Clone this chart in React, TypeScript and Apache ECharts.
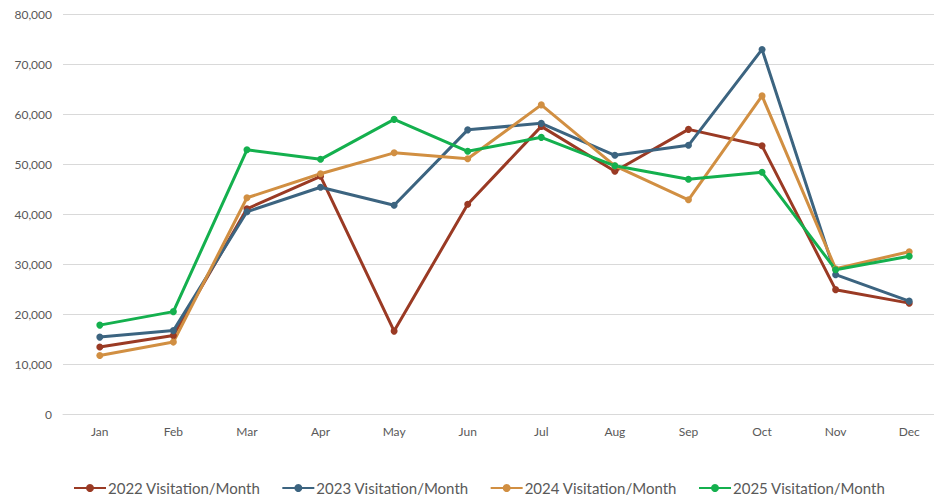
import React, { useEffect, useRef } from "react";
import * as echarts from "echarts";

const months = ["Jan", "Feb", "Mar", "Apr", "May", "Jun", "Jul", "Aug", "Sep", "Oct", "Nov", "Dec"];
const yTicks = [0, 10000, 20000, 30000, 40000, 50000, 60000, 70000, 80000];

const v2022 = [13400, 15700, 41100, 47600, 16600, 42000, 57600, 48600, 57000, 53700, 24900, 22200];
const v2023 = [15400, 16700, 40500, 45400, 41800, 56900, 58200, 51800, 53800, 73000, 27900, 22600];
const v2024 = [11700, 14400, 43300, 48100, 52300, 51100, 61900, 49700, 42900, 63700, 29100, 32500];
const v2025 = [17800, 20500, 52900, 51000, 59000, 52600, 55400, 49700, 47000, 48400, 28900, 31600];

const seriesNames = ["2022 Visitation/Month", "2023 Visitation/Month", "2024 Visitation/Month", "2025 Visitation/Month"];
const seriesColors = ["#9A3A24", "#3C6480", "#D18F42", "#14B04E"];

export default function App() {
  const ref = useRef<HTMLDivElement>(null);
  useEffect(() => {
    document.body.style.margin = "0";
    if (!ref.current) return;
    const chart = echarts.init(ref.current, null, { renderer: "svg" });
    const data = [v2022, v2023, v2024, v2025];
    chart.setOption({
      animation: false,
      backgroundColor: "#ffffff",
      textStyle: { fontFamily: "Lato, 'Open Sans', sans-serif" },
      grid: { left: 63, top: 14.5, width: 883, bottom: 83, outerBoundsMode: "none", containLabel: false },
      legend: {
        left: 73,
        top: 479,
        padding: 0,
        itemWidth: 32,
        itemHeight: 10,
        itemGap: 21,
        textStyle: { color: "#595959", fontSize: 15, lineHeight: 18, padding: [0, 0, 0, -3] },
        data: seriesNames,
      },
      xAxis: {
        type: "category",
        data: months,
        boundaryGap: true,
        axisLine: { show: true, lineStyle: { color: "#D9D9D9", width: 1 } },
        axisTick: { show: false },
        axisLabel: { color: "#595959", fontSize: 12, margin: 11 },
      },
      yAxis: {
        type: "value",
        min: yTicks[0],
        max: yTicks[yTicks.length - 1],
        interval: 10000,
        axisLine: { show: false },
        axisTick: { show: false },
        splitLine: { lineStyle: { color: "#D9D9D9", width: 1 } },
        axisLabel: {
          color: "#595959",
          fontSize: 12,
          margin: 11,
          formatter: (v: number) => v.toLocaleString("en-US"),
        },
      },
      graphic: [
        { type: "rect", shape: { x: 934, y: 0, width: 10, height: 420 }, style: { fill: "#ffffff" }, z: 100 },
      ],
      series: data.map((d, i) => ({
        name: seriesNames[i],
        type: "line",
        data: d,
        symbol: "circle",
        symbolSize: 7,
        lineStyle: { width: 3, color: seriesColors[i] },
        itemStyle: { color: seriesColors[i] },
        emphasis: { disabled: true },
      })),
    });
    return () => chart.dispose();
  }, []);
  return <div ref={ref} style={{ width: 941, height: 497 }} />;
}
